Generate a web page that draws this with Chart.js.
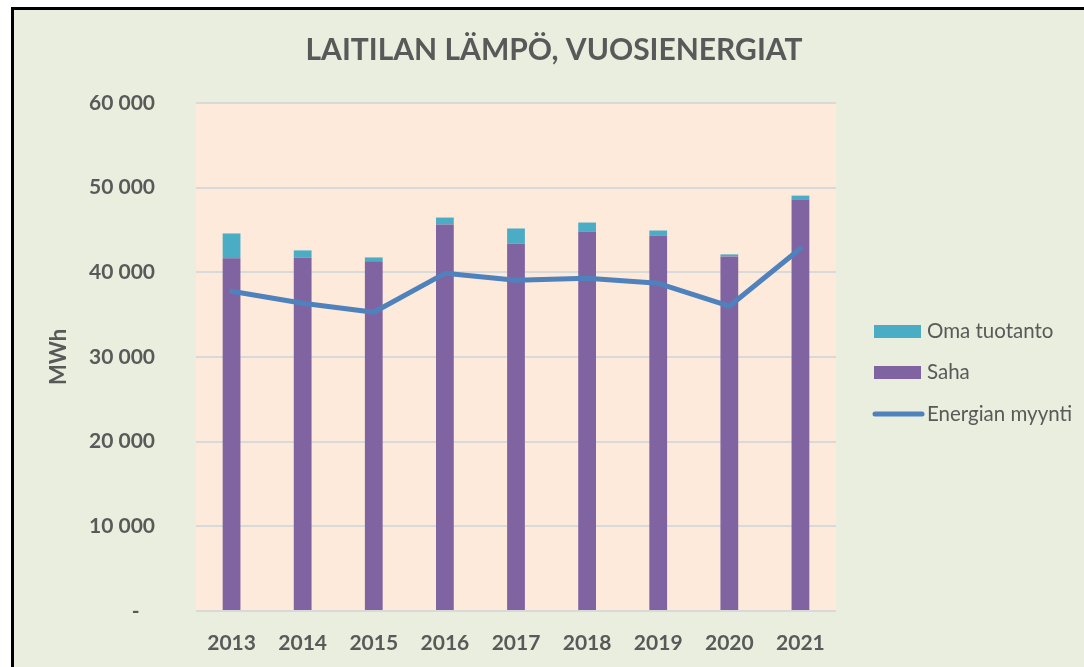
<!DOCTYPE html>
<html>
<head>
<meta charset="utf-8">
<script src="https://cdn.jsdelivr.net/npm/chart.js@4"></script>
<style>
  html, body { margin: 0; padding: 0; background: #fff; }
  canvas { display: block; }
</style>
</head>
<body>
<canvas id="chart" width="1084" height="667"></canvas>
<script>
// vuodet
const years = ['2013', '2014', '2015', '2016', '2017', '2018', '2019', '2020', '2021'];
// Saha (MWh)
const saha = [41650, 41760, 41300, 45650, 43410, 44820, 44350, 41880, 48590];
// Oma tuotanto (MWh)
const omaTuotanto = [2940, 830, 460, 820, 1770, 1060, 590, 240, 470];
// Energian myynti (MWh)
const myynti = [37760, 36350, 35290, 39880, 39060, 39290, 38700, 36000, 42820];
// y-akselin asteikko
const yTicks = [0, 10000, 20000, 30000, 40000, 50000, 60000];

const textColor = '#595959';
const fontFamily = 'Lato, "Open Sans", sans-serif';

// tausta ja kehys
const framePlugin = {
  id: 'frame',
  beforeDraw(chart) {
    const c = chart.ctx;
    const a = chart.chartArea;
    c.save();
    c.fillStyle = '#ffffff';
    c.fillRect(0, 0, chart.width, chart.height);
    c.fillStyle = '#EAEEDE';
    c.fillRect(12, 9, chart.width, chart.height);
    c.strokeStyle = '#000000';
    c.lineWidth = 3;
    c.beginPath();
    c.moveTo(12.5, chart.height + 5);
    c.lineTo(12.5, 8.5);
    c.lineTo(chart.width + 5, 8.5);
    c.stroke();
    c.fillStyle = '#FDEADA';
    c.fillRect(a.left, a.top, a.right - a.left, a.bottom - a.top);
    c.restore();
  }
};

// selite oikealla: Oma tuotanto, Saha, Energian myynti
const legendPlugin = {
  id: 'sideLegend',
  afterDraw(chart) {
    const c = chart.ctx;
    const ds = chart.data.datasets;
    const order = [2, 1, 0];
    const rows = [331, 372, 414];
    c.save();
    c.font = '20.5px ' + fontFamily;
    c.textBaseline = 'middle';
    order.forEach((i, k) => {
      const d = ds[i];
      const y = rows[k];
      if (d.type === 'line') {
        c.strokeStyle = d.borderColor;
        c.lineWidth = 5;
        c.lineCap = 'round';
        c.beginPath();
        c.moveTo(875, y);
        c.lineTo(922, y);
        c.stroke();
      } else {
        c.fillStyle = d.backgroundColor;
        c.fillRect(874, y - 6, 47, 13);
      }
      c.fillStyle = textColor;
      c.fillText(d.label, 927, y);
    });
    c.restore();
  }
};

function fmt(v) {
  if (v === 0) return '-   ';
  return String(v).replace(/\B(?=(\d{3})+(?!\d))/g, ' ');
}

const ctx = document.getElementById('chart').getContext('2d');

new Chart(ctx, {
  type: 'bar',
  data: {
    labels: years,
    datasets: [
      {
        type: 'line',
        label: 'Energian myynti',
        data: myynti,
        borderColor: '#4F81BD',
        backgroundColor: '#4F81BD',
        borderWidth: 5,
        pointRadius: 0,
        tension: 0,
        borderJoinStyle: 'round',
        borderCapStyle: 'round',
        stack: 'line',
        order: 0
      },
      {
        label: 'Saha',
        data: saha,
        backgroundColor: '#8064A2',
        stack: 'bars',
        order: 1
      },
      {
        label: 'Oma tuotanto',
        data: omaTuotanto,
        backgroundColor: '#4BACC6',
        stack: 'bars',
        order: 1
      }
    ]
  },
  options: {
    responsive: false,
    animation: false,
    layout: { padding: { left: 24, right: 0, top: 0, bottom: 0 } },
    datasets: {
      bar: { categoryPercentage: 1, barPercentage: 0.25 }
    },
    plugins: {
      legend: { display: false },
      tooltip: { enabled: false },
      title: {
        display: true,
        text: 'LAITILAN LÄMPÖ, VUOSIENERGIAT',
        color: textColor,
        font: { family: fontFamily, size: 30, weight: 'bold', lineHeight: 1.2 },
        padding: { top: 32, bottom: 35 }
      }
    },
    scales: {
      x: {
        stacked: true,
        grid: { display: false },
        border: { display: false },
        ticks: {
          color: textColor,
          padding: 12,
          font: { family: fontFamily, size: 21, weight: 'bold' }
        },
        afterFit(s) { s.height = 56; }
      },
      y: {
        stacked: true,
        min: yTicks[0],
        max: yTicks[yTicks.length - 1],
        afterBuildTicks(s) { s.ticks = yTicks.map(v => ({ value: v })); },
        grid: { color: '#D9D9D9', lineWidth: 2, drawTicks: false },
        border: { display: false },
        ticks: {
          color: textColor,
          padding: 41,
          font: { family: fontFamily, size: 21, weight: 'bold' },
          callback: v => fmt(v)
        },
        title: {
          display: true,
          text: 'MWh',
          color: textColor,
          font: { family: fontFamily, size: 22, weight: 'bold' },
          padding: { top: 22, bottom: 0 }
        },
        afterFit(s) { s.width = 172; }
      },
      yRight: {
        position: 'right',
        display: true,
        grid: { display: false },
        border: { display: false },
        ticks: { display: false },
        afterFit(s) { s.width = 248; }
      }
    }
  },
  plugins: [framePlugin, legendPlugin]
});
</script>
</body>
</html>
